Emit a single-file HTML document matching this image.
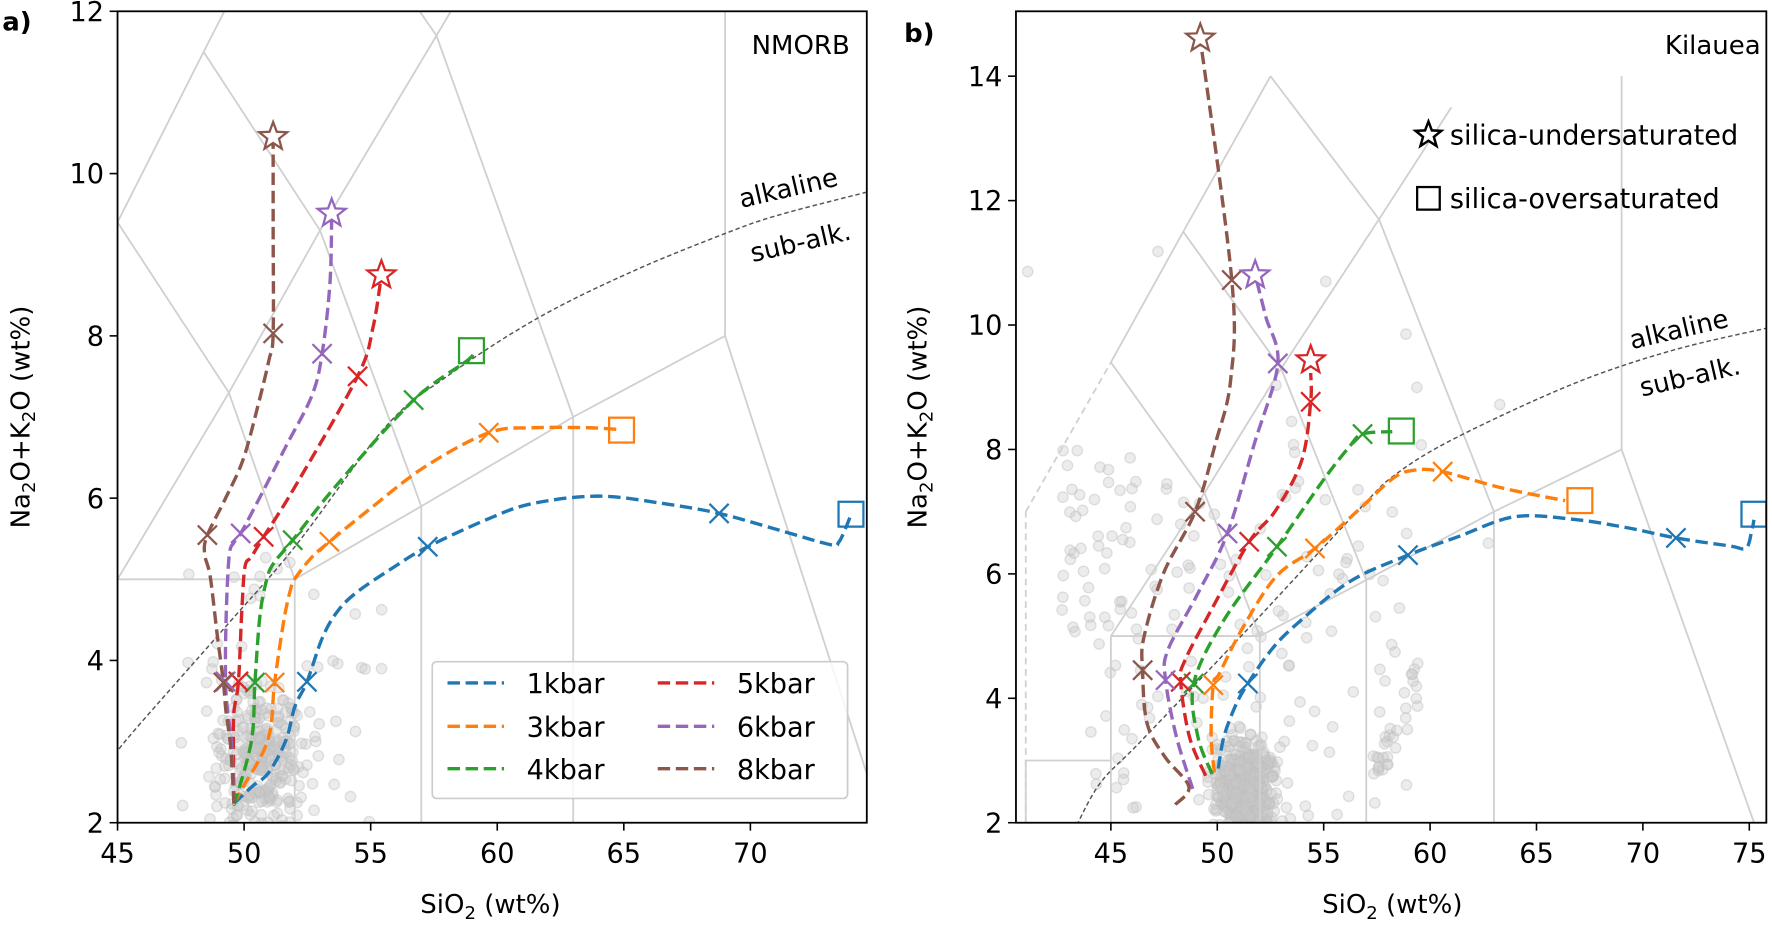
<!DOCTYPE html>
<html><head><meta charset="utf-8">
<style>
html,body{margin:0;padding:0;background:#fff;overflow:hidden;width:1772px;height:925px;}
svg{display:block;}
text{font-family:"DejaVu Sans","Liberation Sans",sans-serif;fill:#000;}
</style></head>
<body>
<svg id="s" width="1772" height="925" viewBox="0 0 1568 818.5" preserveAspectRatio="none" xmlns="http://www.w3.org/2000/svg">
<defs>
<clipPath id="ca"><rect x="104" y="10" width="663" height="718"/></clipPath>
<clipPath id="cb"><rect x="899" y="10" width="664" height="718"/></clipPath>
</defs>
<g id="ga" clip-path="url(#ca)"></g>
<g id="gb" clip-path="url(#cb)"></g>
<g id="top"></g>
</svg>
<script>
var NS="http://www.w3.org/2000/svg";
function el(p,t,a,txt){var e=document.createElementNS(NS,t);for(var k in a)e.setAttribute(k,a[k]);if(txt!==undefined)e.textContent=txt;p.appendChild(e);return e;}
var ga=document.getElementById('ga'),gb=document.getElementById('gb'),top_=document.getElementById('top');
function ax(v){return 104+(v-45)*22.4;} function ay(v){return 728-(v-2)*71.8;}
function bx(v){return 983+(v-45)*18.83;} function by(v){return 728-(v-2)*55.05;}
var seed=7;function rnd(){seed=(seed*16807)%2147483647;return seed/2147483647;}
function gauss(){return (rnd()+rnd()+rnd()+rnd()-2)/0.58;}
function scatter(g,fx,fy,pts){pts.forEach(function(p){el(g,'circle',{cx:fx(p[0]),cy:fy(p[1]),r:4.6,fill:'rgba(200,200,200,0.35)',stroke:'rgba(190,190,190,0.45)','stroke-width':1.2});});}
var pa=[];for(var i=0;i<300;i++){pa.push([50.6+gauss()*0.8,2.7+gauss()*0.45]);}
for(i=0;i<50;i++){pa.push([47.5+rnd()*8,2+rnd()*3.4]);}
scatter(ga,ax,ay,pa);
var pb=[];for(i=0;i<500;i++){pb.push([51.3+gauss()*0.75,2.5+gauss()*0.4]);}
for(i=0;i<120;i++){pb.push([44+rnd()*15,2+rnd()*5.5]);}
for(i=0;i<40;i++){pb.push([42.5+rnd()*3.5,5+rnd()*3]);}
for(i=0;i<30;i++){var t=rnd();pb.push([57.5+t*2,2.8+t*1.6+gauss()*0.2]);}
for(i=0;i<15;i++){pb.push([41+rnd()*25,6+rnd()*6]);}
scatter(gb,bx,by,pb);
var L=[[41,0,41,3],[41,3,45,3],[45,0,45,5],[45,5,52,5],[52,0,52,5],[52,5,57,5.9],[57,0,57,5.9],[57,5.9,63,7],[63,0,63,7],[63,7,69,8],[69,8,69,14],[69,8,77.3,0],
[45,5,49.4,7.3],[49.4,7.3,53,9.3],[53,9.3,57.6,11.7],[57.6,11.7,61,13.5],[52,5,49.4,7.3],[57,5.9,53,9.3],[63,7,57.6,11.7],[49.4,7.3,45,9.4],[53,9.3,48.4,11.5],[57.6,11.7,52.5,14],[45,9.4,48.4,11.5],[48.4,11.5,52.5,14]];
function tas(g,fx,fy){L.forEach(function(l){el(g,'line',{x1:fx(l[0]),y1:fy(l[1]),x2:fx(l[2]),y2:fy(l[3]),stroke:'#d0d0d0','stroke-width':1.6});});}
tas(ga,ax,ay);tas(gb,bx,by);
el(gb,'line',{x1:bx(41),y1:by(2),x2:bx(41),y2:by(7),stroke:'#d0d0d0','stroke-width':1.6,'stroke-dasharray':'6,4'});
el(gb,'line',{x1:bx(41),y1:by(7),x2:bx(45),y2:by(9.4),stroke:'#d0d0d0','stroke-width':1.6,'stroke-dasharray':'6,4'});
function path(p){var d='M'+p[0][0]+','+p[0][1];for(var i=0;i<p.length-1;i++){var p0=p[i-1]||p[i],p1=p[i],p2=p[i+1],p3=p[i+2]||p2;
var c1x=p1[0]+(p2[0]-p0[0])/6,c1y=p1[1]+(p2[1]-p0[1])/6,c2x=p2[0]-(p3[0]-p1[0])/6,c2y=p2[1]-(p3[1]-p1[1])/6;
d+=' C'+c1x.toFixed(1)+','+c1y.toFixed(1)+' '+c2x.toFixed(1)+','+c2y.toFixed(1)+' '+p2[0]+','+p2[1];}return d;}
function alk(g,p){el(g,'path',{d:path(p),fill:'none',stroke:'#555','stroke-width':1.3,'stroke-dasharray':'4,2.5'});}
alk(ga,[[100,674],[111.5,655],[199.6,554.6],[260.9,483.8],[341.3,377.6],[395,333.4],[475.4,281.7],[560,240],[642,206.5],[689,190.3],[767,170]]);
alk(gb,[[950,736],[973.5,693],[1010.4,655],[1106,554.6],[1202,451.4],[1236,419],[1290,386.5],[1393,339.3],[1480,310],[1565,290]]);
var C={b:'#1f77b4',o:'#ff7f0e',g:'#2ca02c',r:'#d62728',p:'#9467bd',n:'#8c564b'};
function curve(g,c,p){el(g,'path',{d:path(p),fill:'none',stroke:c,'stroke-width':3,'stroke-dasharray':'11,5'});}
function X(g,c,pts){pts.forEach(function(q){var s=8.5;el(g,'path',{d:'M'+(q[0]-s)+','+(q[1]-s)+'L'+(q[0]+s)+','+(q[1]+s)+'M'+(q[0]-s)+','+(q[1]+s)+'L'+(q[0]+s)+','+(q[1]-s),stroke:c,'stroke-width':2,fill:'none'});});}
function star(g,c,x,y,r,fill,sw){var d='';for(var i=0;i<10;i++){var rr=i%2?r*0.42:r,a=-Math.PI/2+i*Math.PI/5;d+=(i?'L':'M')+(x+rr*Math.cos(a)).toFixed(1)+','+(y+rr*Math.sin(a)).toFixed(1);}el(g,'path',{d:d+'Z',fill:fill||'none',stroke:c,'stroke-width':sw||2});}
function sq(g,c,x,y,s){el(g,'rect',{x:x-s,y:y-s,width:2*s,height:2*s,fill:'none',stroke:c,'stroke-width':2});}
curve(ga,C.b,[[207,711],[223,696],[237.5,684],[253,655],[261,625],[271.6,603.3],[285,565],[297.3,542.8],[314.5,525],[349,501.5],[378.5,483.8],[433,458.7],[471.6,445.5],[529,439],[586.5,445.5],[636.3,454.3],[689,469],[735,482],[742,480],[748,468],[752,458]]);
curve(ga,C.o,[[207,711],[213,700],[237,655],[243,604],[251,550],[257,522],[261,512],[276,493],[291.5,479.4],[326,451.4],[376,413],[432.5,382.9],[472,378.5],[521,378.5],[548,380]]);
curve(ga,C.g,[[207,711],[209,706],[222.6,655],[225.6,604],[230,545],[236,513],[242,498.6],[259,478],[299,428],[366,354],[414,318.6],[418,311]]);
curve(ga,C.r,[[207,711],[206.5,660],[207,630],[211,603],[214,540],[216.8,501.5],[222.6,492.6],[233.3,475],[261,430.7],[316.4,333],[330,290],[337.5,243.4]]);
curve(ga,C.p,[[207,711],[205,660],[201.5,630],[199.6,603],[200,550],[202.7,492.6],[207,480],[213,472],[230,440],[253,395],[276,350],[285,313],[292,250],[293.5,188.8]]);
curve(ga,C.n,[[207,711],[204,660],[200,630],[197.7,604],[192,560],[186,510],[181,490],[183.5,473.5],[200,440],[215,407],[228,360],[238,318.6],[241.7,295],[241.7,200],[241.7,121]]);
X(ga,C.b,[[271.6,603.3],[378.5,483.8],[636.3,454.3]]);X(ga,C.o,[[243,604],[291.5,479.4],[432.5,382.9]]);X(ga,C.g,[[225.6,604],[259,478],[366,354]]);
X(ga,C.r,[[211,603],[233.3,475],[316.4,333]]);X(ga,C.p,[[199.6,603],[213,472],[285,313]]);X(ga,C.n,[[197.7,604],[183.5,473.5],[241.7,295]]);
sq(ga,C.b,753,455,11);sq(ga,C.o,550,380.6,11);sq(ga,C.g,417.2,310.3,11);
star(ga,C.r,337.5,243.4,13,'#fff');star(ga,C.p,293.5,188.8,13,'#fff');star(ga,C.n,241.7,121,13,'#fff');
curve(gb,C.b,[[1078,680],[1083,652],[1093,625],[1104.2,604.8],[1125,575],[1148,551.7],[1194,514.8],[1245.9,491.2],[1290,475],[1340,457.3],[1393,459.6],[1440,467],[1483,476],[1530,483],[1545,485],[1550,470],[1552,460]]);
curve(gb,C.o,[[1074.6,683.5],[1071.7,652],[1073.6,606],[1079,596],[1098.5,557.6],[1129,510.4],[1163.6,485.3],[1202,451.4],[1232.6,423.3],[1251.7,416],[1276.6,417.4],[1330,432],[1385,443]]);
curve(gb,C.g,[[1072.6,685],[1060,652],[1056.3,604.8],[1083,548.7],[1130,483.8],[1171,424.8],[1194,395.3],[1205.7,384],[1232,382]]);
curve(gb,C.r,[[1066.9,686.5],[1052.5,652],[1044.8,603.3],[1048.7,584],[1071.7,540],[1105.4,479.4],[1129,451.4],[1152,407],[1159.8,355.5],[1159.8,330]]);
curve(gb,C.p,[[1055.4,698],[1041,652],[1031.4,601.8],[1033.4,575.3],[1060,525],[1086,472],[1110,392.4],[1130.7,322],[1120,280],[1110.7,243.4]]);
curve(gb,C.n,[[1040,712],[1052,696],[1030.6,669.5],[1015,640],[1011,593],[1012.3,563.5],[1029.5,507.4],[1057.5,452.8],[1075.5,392.4],[1089,336],[1090,247.8],[1062,34]]);
X(gb,C.b,[[1245.9,491.2],[1104.2,604.8],[1483,476]]);X(gb,C.o,[[1073.6,606.2],[1163.6,485.3],[1276.6,417.4]]);X(gb,C.g,[[1056.3,604.8],[1130,483.8],[1205.7,384.1]]);
X(gb,C.r,[[1044.8,603.3],[1105.4,479.4],[1159.8,355.5]]);X(gb,C.p,[[1031.4,601.8],[1086.2,472],[1130.7,321.6]]);X(gb,C.n,[[1011.1,593],[1057.5,452.8],[1090,247.8]]);
sq(gb,C.b,1552,455,11);sq(gb,C.o,1398,443,11);sq(gb,C.g,1240,381.4,11);
star(gb,C.r,1159.8,318.6,13,'#fff');star(gb,C.p,1110.7,243.4,13,'#fff');star(gb,C.n,1062.1,33.9,13,'#fff');
function frame(x0,x1,xt,fx,yt,fy){
 el(top_,'rect',{x:x0,y:10,width:x1-x0,height:718,fill:'none',stroke:'#000','stroke-width':1.6});
 xt.forEach(function(v){var x=fx(v);el(top_,'line',{x1:x,y1:728,x2:x,y2:735,stroke:'#000','stroke-width':1.4});el(top_,'text',{x:x,y:763,'font-size':24,'text-anchor':'middle'},String(v));});
 yt.forEach(function(v){var y=fy(v);el(top_,'line',{x1:x0,y1:y,x2:x0-7,y2:y,stroke:'#000','stroke-width':1.4});el(top_,'text',{x:x0-12,y:y+8.5,'font-size':24,'text-anchor':'end'},String(v));});
}
frame(104,767,[45,50,55,60,65,70],ax,[2,4,6,8,10,12],ay);
frame(899,1563,[45,50,55,60,65,70,75],bx,[2,4,6,8,10,12,14],by);
function xlabel(cx){var t=el(top_,'text',{x:cx,y:808,'font-size':23,'text-anchor':'middle'});t.innerHTML='SiO<tspan font-size="16" dy="5">2</tspan><tspan dy="-5"> (wt%)</tspan>';}
xlabel(434);xlabel(1232);
function ylabel(x,cy){var t=el(top_,'text',{x:0,y:0,'font-size':23,'text-anchor':'middle',transform:'translate('+x+','+cy+') rotate(-90)'});t.innerHTML='Na<tspan font-size="16" dy="5">2</tspan><tspan dy="-5">O+K</tspan><tspan font-size="16" dy="5">2</tspan><tspan dy="-5">O (wt%)</tspan>';}
ylabel(26,369);ylabel(820,369);
el(top_,'text',{x:2,y:27,'font-size':23,'font-weight':'bold'},'a)');
el(top_,'text',{x:800,y:37,'font-size':23,'font-weight':'bold'},'b)');
el(top_,'text',{x:752,y:48,'font-size':23,'text-anchor':'end'},'NMORB');
el(top_,'text',{x:1558,y:48,'font-size':23,'text-anchor':'end'},'Kilauea');
el(top_,'text',{x:0,y:0,'font-size':23,transform:'translate(656,184) rotate(-13)'},'alkaline');
el(top_,'text',{x:0,y:0,'font-size':23,transform:'translate(666,232) rotate(-13)'},'sub-alk.');
el(top_,'text',{x:0,y:0,'font-size':23,transform:'translate(1444,309) rotate(-13)'},'alkaline');
el(top_,'text',{x:0,y:0,'font-size':23,transform:'translate(1453,351) rotate(-13)'},'sub-alk.');
el(top_,'rect',{x:382.5,y:585.5,width:367.5,height:121,rx:4,fill:'rgba(255,255,255,0.8)',stroke:'#ccc','stroke-width':1.5});
var lg=[['1kbar',C.b,0,0],['3kbar',C.o,0,1],['4kbar',C.g,0,2],['5kbar',C.r,1,0],['6kbar',C.p,1,1],['8kbar',C.n,1,2]];
lg.forEach(function(e){var x=e[2]?582:396,y=[604.3,642.7,680.2][e[3]];
 el(top_,'line',{x1:x,y1:y,x2:x+50,y2:y,stroke:e[1],'stroke-width':3,'stroke-dasharray':'11,5'});
 el(top_,'text',{x:x+70,y:y+9,'font-size':24},e[0]);});
star(top_,'#000',1264,119.5,12,'#fff',2.2);
el(top_,'text',{x:1283,y:128,'font-size':24},'silica-undersaturated');
sq(top_,'#000',1264,175.5,10);
el(top_,'text',{x:1283,y:184,'font-size':24},'silica-oversaturated');
</script>
</body></html>
